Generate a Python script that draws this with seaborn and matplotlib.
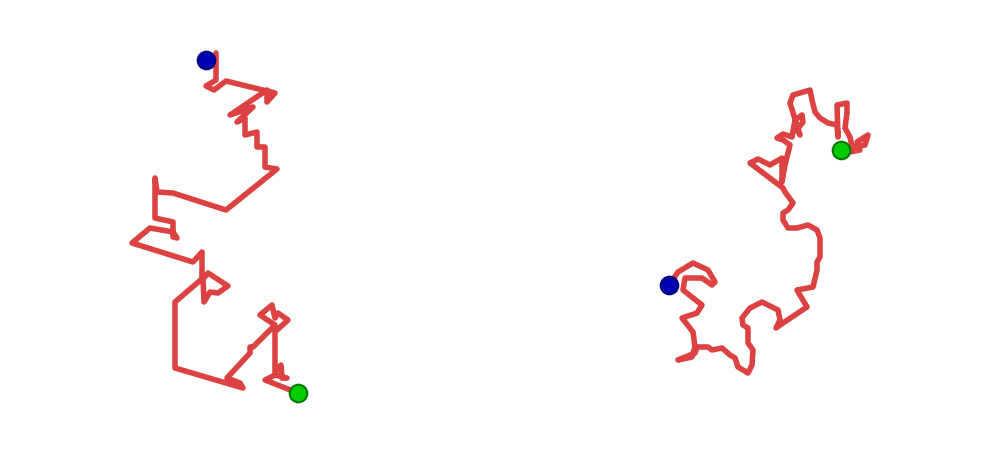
import matplotlib
matplotlib.use('Agg')
import matplotlib.pyplot as plt
import seaborn as sns
import pandas as pd

# Walk 1 (left panel)
walk1_x = [216, 216, 206, 214, 226, 275, 267, 267, 230, 253, 237, 245, 245, 257, 257, 265, 265, 277,
           226, 173, 157, 155, 155, 155, 173, 173, 177, 173, 150, 132, 193, 202, 202, 208, 228, 218,
           210, 204, 203, 175, 175, 243, 240, 227, 250, 250, 253, 275, 260, 272, 275, 278, 288, 277,
           275, 275, 281, 282, 287, 275, 265, 293, 298]
walk1_y = [53, 80, 86, 90, 81, 93, 102, 90, 115, 107, 122, 118, 135, 132, 147, 147, 167, 169,
           210, 193, 192, 178, 192, 218, 222, 237, 238, 232, 228, 243, 262, 252, 280, 273, 286, 293,
           292, 302, 278, 302, 368, 388, 383, 378, 353, 347, 347, 325, 315, 305, 318, 313, 320, 330,
           330, 372, 365, 378, 378, 375, 380, 391, 393]

# Walk 2 (right panel)
walk2_x = [669, 678, 693, 708, 715, 712, 702, 685, 683, 702, 697, 682, 693, 695, 692, 678, 695, 697,
           708, 712, 722, 730, 735, 738, 748, 752, 753, 748, 748, 743, 742, 750, 762, 778, 780, 776,
           783, 807, 797, 813, 817, 817, 820, 820, 817, 808, 797, 788, 783, 783, 788, 793, 785, 783,
           750, 758, 770, 782, 782, 785, 790, 783, 777, 783, 792, 795, 802, 803, 797, 800, 790, 793,
           810, 812, 815, 820, 828, 837, 838, 837, 847, 847, 845, 850, 852, 865, 868, 857, 860, 850,
           841]
walk2_y = [285, 272, 263, 270, 282, 285, 278, 278, 290, 305, 313, 318, 332, 347, 357, 360, 353, 347,
           347, 350, 348, 355, 358, 367, 373, 365, 350, 343, 328, 325, 318, 308, 302, 310, 320, 328,
           323, 307, 290, 287, 270, 262, 257, 238, 230, 225, 228, 228, 220, 213, 210, 203, 192, 188,
           163, 159, 165, 158, 182, 165, 145, 140, 138, 134, 137, 120, 115, 122, 130, 135, 103, 95,
           90, 100, 112, 118, 123, 125, 137, 105, 103, 113, 128, 137, 147, 145, 135, 142, 150, 152,
           150]

start_x = [206, 669]
start_y = [60, 285]
end_x = [298, 841]
end_y = [393, 150]

sns.set_theme(style='white')

fig, axes = plt.subplots(1, 2, figsize=(10.01, 4.76), dpi=100)
fig.subplots_adjust(left=0, right=1, bottom=0, top=1, wspace=0)

walks = [(walk1_x, walk1_y), (walk2_x, walk2_y)]
for i, ax in enumerate(axes):
    wx, wy = walks[i]
    df = pd.DataFrame({'x': wx, 'y': wy})
    sns.lineplot(data=df, x='x', y='y', sort=False, estimator=None, ax=ax,
                 color='#dc4242', linewidth=4, solid_capstyle='round', solid_joinstyle='round')
    sns.scatterplot(x=[start_x[i]], y=[start_y[i]], ax=ax, s=160, color='#0000b4',
                    edgecolor='#000078', linewidth=1.5, zorder=5)
    sns.scatterplot(x=[end_x[i]], y=[end_y[i]], ax=ax, s=160, color='#00cc00',
                    edgecolor='#007800', linewidth=1.5, zorder=5)
    ax.set_xlim(i * 500.5, (i + 1) * 500.5)
    ax.set_ylim(476, 0)
    ax.set_axis_off()

fig.savefig('out.png', dpi=100)
